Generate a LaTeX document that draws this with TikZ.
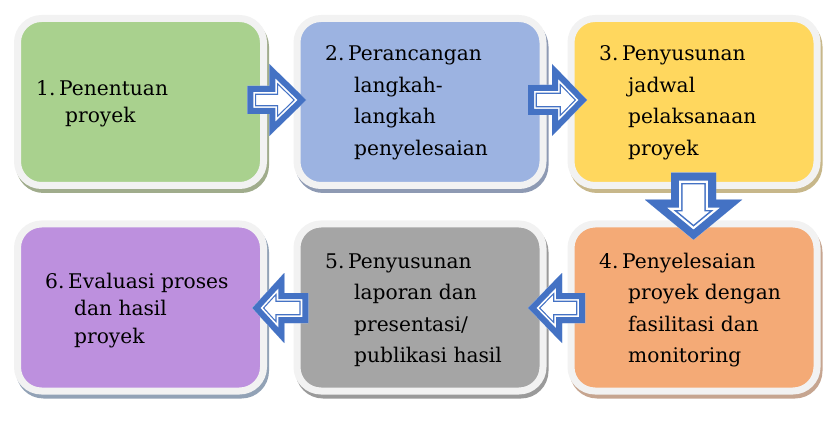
\documentclass[tikz,border=0pt]{standalone}
\usepackage{fontspec}
\setmainfont{DejaVu Serif}
\usetikzlibrary{calc,backgrounds}
\definecolor{fillG}{HTML}{A9D18E}
\definecolor{fillB}{HTML}{9CB3E1}
\definecolor{fillY}{HTML}{FFD75E}
\definecolor{fillO}{HTML}{F4AA76}
\definecolor{fillK}{HTML}{A5A5A5}
\definecolor{fillP}{HTML}{BD90DE}
\definecolor{shG}{HTML}{A0AC8C}
\definecolor{shB}{HTML}{8E9AB3}
\definecolor{shY}{HTML}{C7B78A}
\definecolor{shO}{HTML}{C6A590}
\definecolor{shK}{HTML}{9A9A9A}
\definecolor{shP}{HTML}{92A2B6}
\definecolor{borderc}{HTML}{F2F2F2}
\definecolor{arrowblue}{HTML}{4472C4}
\tikzset{
  box/.style={draw=borderc, line width=7pt, rounded corners=24pt,
    minimum width=246pt, minimum height=167pt, inner sep=0pt, outer sep=0pt},
  txt/.style={anchor=base west, inner sep=0pt, font=\fontsize{20.2pt}{24pt}\selectfont},
}
% #1 centre, #2 angle, #3 tail, #4 head base, #5 tip, #6 shaft half, #7 head half, #8 band factor
\newcommand\blockarrow[8]{%
  \begin{scope}[shift={(#1)}, rotate=#2, line join=miter, miter limit=20]
    \clip (#3,-#6) -- (#4,-#6) -- (#4,-#7) -- (#5,0) -- (#4,#7) -- (#4,#6) -- (#3,#6) -- cycle;
    \fill[white] (#3,-#6) -- (#4,-#6) -- (#4,-#7) -- (#5,0) -- (#4,#7) -- (#4,#6) -- (#3,#6) -- cycle;
    \draw[arrowblue, line width={#8*17.8pt}] (#3,-#6) -- (#4,-#6) -- (#4,-#7) -- (#5,0) -- (#4,#7) -- (#4,#6) -- (#3,#6) -- cycle;
    \draw[white, line width={#8*15.4pt}] (#3,-#6) -- (#4,-#6) -- (#4,-#7) -- (#5,0) -- (#4,#7) -- (#4,#6) -- (#3,#6) -- cycle;
    \draw[arrowblue, line width={#8*12pt}] (#3,-#6) -- (#4,-#6) -- (#4,-#7) -- (#5,0) -- (#4,#7) -- (#4,#6) -- (#3,#6) -- cycle;
  \end{scope}}
\begin{document}
\begin{tikzpicture}[x=1pt, y=-1pt]
\useasboundingbox (0,0) rectangle (838,422);
% boxes
\node[box, fill=fillG] (b1) at (140.5,102) {};
\node[box, fill=fillB] (b2) at (420,102) {};
\node[box, fill=fillY] (b3) at (694,102) {};
\node[box, fill=fillO] (b4) at (694,307.5) {};
\node[box, fill=fillK] (b5) at (420,307.5) {};
\node[box, fill=fillP] (b6) at (140.5,307.5) {};
\begin{scope}[on background layer]
  \foreach \n/\c in {b1/shG, b2/shB, b3/shY, b4/shO, b5/shK, b6/shP}
    \fill[\c, rounded corners=27.5pt] ($(\n.north west)+(-1.5,0.5)$) rectangle ($(\n.south east)+(5.5,7.5)$);
\end{scope}
% texts
\node[txt] (t1n) at (36,96) {1.};
\node[txt] (t1a) at (59,96) {Penentuan};
\node[txt] (t1b) at (65,123) {proyek};
\node[txt] (t2n) at (325,61) {2.};
\node[txt] (t2a) at (348,61) {Perancangan};
\node[txt] (t2b) at (354,92.5) {langkah-};
\node[txt] (t2c) at (354,124) {langkah};
\node[txt] (t2d) at (354,155.5) {penyelesaian};
\node[txt] (t3n) at (599,61) {3.};
\node[txt] (t3a) at (622,61) {Penyusunan};
\node[txt] (t3b) at (628,92.5) {jadwal};
\node[txt] (t3c) at (628,124) {pelaksanaan};
\node[txt] (t3d) at (628,155.5) {proyek};
\node[txt] (t4n) at (599,268) {4.};
\node[txt] (t4a) at (622,268) {Penyelesaian};
\node[txt] (t4b) at (628,299.5) {proyek dengan};
\node[txt] (t4c) at (628,331) {fasilitasi dan};
\node[txt] (t4d) at (628,362.5) {monitoring};
\node[txt] (t5n) at (325,268) {5.};
\node[txt] (t5a) at (348,268) {Penyusunan};
\node[txt] (t5b) at (354,299.5) {laporan dan};
\node[txt] (t5c) at (354,331) {presentasi/};
\node[txt] (t5d) at (354,362.5) {publikasi hasil};
\node[txt] (t6n) at (45,288) {6.};
\node[txt] (t6a) at (68,288) {Evaluasi proses};
\node[txt] (t6b) at (74,315.5) {dan hasil};
\node[txt] (t6c) at (74,343) {proyek};
% connectors (block arrows)
\coordinate (a12) at ($($(b1.east)!0.5!(b2.west)$)+(-3.5,-2)$);
\coordinate (a23) at ($($(b2.east)!0.5!(b3.west)$)+(0.5,-2)$);
\coordinate (a34) at ($($(b3.south)!0.5!(b4.north)$)+(-0.5,1.5)$);
\coordinate (a45) at ($($(b4.west)!0.5!(b5.east)$)+(-0.5,0.5)$);
\coordinate (a56) at ($($(b5.west)!0.5!(b6.east)$)+(0,0.5)$);
\blockarrow{a12}{0}{-29.5}{-7.5}{29.5}{14}{36}{1}
\blockarrow{a23}{0}{-29.5}{-5.5}{29.5}{15}{36}{1}
\blockarrow{a34}{-90}{-33.5}{-6.5}{33.5}{22.5}{48.5}{1.3}
\blockarrow{a45}{180}{-28.5}{-5.5}{28.5}{15}{35}{1}
\blockarrow{a56}{180}{-28}{-4}{28}{15}{35}{1}
\end{tikzpicture}
\end{document}
